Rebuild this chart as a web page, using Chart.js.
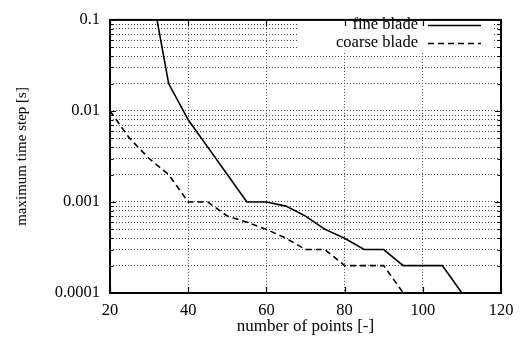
<!DOCTYPE html>
<html>
<head>
<meta charset="utf-8">
<script src="https://cdn.jsdelivr.net/npm/chart.js@4/dist/chart.umd.min.js"></script>
<style>
  html, body { margin: 0; padding: 0; background: #fff; }
  #wrap { width: 522px; height: 338px; }
</style>
</head>
<body>
<div id="wrap"><canvas id="c" width="522" height="338"></canvas></div>
<script>
// data
const finePoints = [30, 35, 40, 45, 50, 55, 60, 65, 70, 75, 80, 85, 90, 95, 100, 105, 110, 115, 120];
const fineStep = [0.3, 0.02, 0.008, 0.004, 0.002, 0.001, 0.001, 0.0009, 0.0007, 0.0005, 0.0004,
  0.0003, 0.0003, 0.0002, 0.0002, 0.0002, 0.0001, 0.0001, 0.0001];
const coarsePoints = [20, 25, 30, 35, 40, 45, 50, 55, 60, 65, 70, 75, 80, 85, 90, 95, 100, 105, 110, 115, 120];
const coarseStep = [0.01, 0.005, 0.003, 0.002, 0.001, 0.001, 0.0007, 0.0006, 0.0005, 0.0004, 0.0003,
  0.0003, 0.0002, 0.0002, 0.0002, 0.0001, 0.0001, 0.0001, 0.0001, 0.0001, 0.0001];
const xTicks = [20, 40, 60, 80, 100, 120];
const yDecades = [0.0001, 0.001, 0.01, 0.1];
const seriesNames = ['fine blade', 'coarse blade'];

const FONT = "'Liberation Serif', 'Times New Roman', serif";

// all log ticks 1..9 per decade
const yTicks = [];
yDecades.forEach((d, i) => {
  const last = i === yDecades.length - 1;
  for (let m = 1; m <= (last ? 1 : 9); m++) yTicks.push(d * m);
});
const isDecade = v => yDecades.some(d => Math.abs(v - d) / d < 1e-6);

const toXY = (xs, ys) => xs.map((x, i) => ({ x: x, y: ys[i] }));

// white box behind the key, then grid is covered there
const keyBox = {
  id: 'keyBox',
  beforeDatasetsDraw(chart) {
    const ctx = chart.ctx;
    ctx.save();
    ctx.fillStyle = '#fff';
    ctx.fillRect(299, 10, 193, 41);
    ctx.restore();
  },
  afterDraw(chart) {
    const ctx = chart.ctx;
    ctx.save();
    ctx.font = '16.5px ' + FONT;
    ctx.fillStyle = '#000';
    ctx.textAlign = 'right';
    ctx.textBaseline = 'middle';
    const rows = [25, 43];
    chart.data.datasets.forEach((ds, i) => {
      ctx.fillText(ds.label, 418, rows[i]);
      ctx.beginPath();
      ctx.lineWidth = ds.borderWidth;
      ctx.strokeStyle = ds.borderColor;
      ctx.setLineDash(ds.borderDash || []);
      ctx.moveTo(428, rows[i] + 0.5);
      ctx.lineTo(481, rows[i] + 0.5);
      ctx.stroke();
    });
    ctx.restore();
  }
};

// frame and inward tick marks, gnuplot style
const frame = {
  id: 'frame',
  afterDatasetsDraw(chart) {
    const ctx = chart.ctx;
    const a = chart.chartArea;
    const xs = chart.scales.x, ys = chart.scales.y;
    ctx.save();
    ctx.strokeStyle = '#000';
    ctx.setLineDash([]);
    ctx.lineWidth = 1.2;
    ctx.beginPath();
    xTicks.forEach(v => {
      const px = Math.round(xs.getPixelForValue(v)) + 0.5;
      ctx.moveTo(px, a.bottom); ctx.lineTo(px, a.bottom - 6);
      ctx.moveTo(px, a.top); ctx.lineTo(px, a.top + 6);
    });
    yTicks.forEach(v => {
      const py = Math.round(ys.getPixelForValue(v)) + 0.5;
      const len = isDecade(v) ? 6 : 3.5;
      ctx.moveTo(a.left, py); ctx.lineTo(a.left + len, py);
      ctx.moveTo(a.right, py); ctx.lineTo(a.right - len, py);
    });
    ctx.stroke();
    ctx.lineWidth = 2;
    ctx.strokeRect(a.left, a.top, a.right - a.left, a.bottom - a.top);
    ctx.restore();
  }
};

new Chart(document.getElementById('c'), {
  type: 'line',
  data: {
    datasets: [
      {
        label: seriesNames[0],
        data: toXY(finePoints, fineStep),
        borderColor: '#000',
        borderWidth: 1.6,
        pointRadius: 0,
        tension: 0
      },
      {
        label: seriesNames[1],
        data: toXY(coarsePoints, coarseStep),
        borderColor: '#000',
        borderWidth: 1.6,
        borderDash: [6, 4],
        pointRadius: 0,
        tension: 0
      }
    ]
  },
  options: {
    responsive: false,
    animation: false,
    devicePixelRatio: 1,
    layout: { padding: { top: 9, right: 21, left: 0, bottom: 0 } },
    plugins: { legend: { display: false }, tooltip: { enabled: false } },
    scales: {
      x: {
        type: 'linear',
        min: 20,
        max: 120,
        afterBuildTicks: s => { s.ticks = xTicks.map(v => ({ value: v })); },
        afterFit: s => { s.height = 45; },
        ticks: {
          autoSkip: false,
          maxRotation: 0,
          padding: 7.5,
          color: '#000',
          font: { family: FONT, size: 16.5 },
          callback: v => String(v)
        },
        grid: { color: '#444', lineWidth: 1, drawTicks: false },
        border: { display: false, dash: [1, 2] },
        title: {
          display: true,
          text: 'number of points [-]',
          color: '#000',
          font: { family: FONT, size: 17 },
          padding: { top: 0, bottom: 1 }
        }
      },
      y: {
        type: 'logarithmic',
        min: 0.0001,
        max: 0.1,
        afterBuildTicks: s => { s.ticks = yTicks.map(v => ({ value: v })); },
        afterFit: s => { s.width = 110; },
        ticks: {
          autoSkip: false,
          padding: 10,
          color: '#000',
          font: { family: FONT, size: 16.5 },
          callback: v => isDecade(v) ? String(v) : ''
        },
        grid: { color: '#444', lineWidth: 1, drawTicks: false },
        border: { display: false, dash: [1, 2] },
        title: {
          display: true,
          text: 'maximum time step [s]',
          color: '#000',
          font: { family: FONT, size: 15 },
          padding: { top: 13, bottom: 0 }
        }
      }
    }
  },
  plugins: [keyBox, frame]
});
</script>
</body>
</html>
